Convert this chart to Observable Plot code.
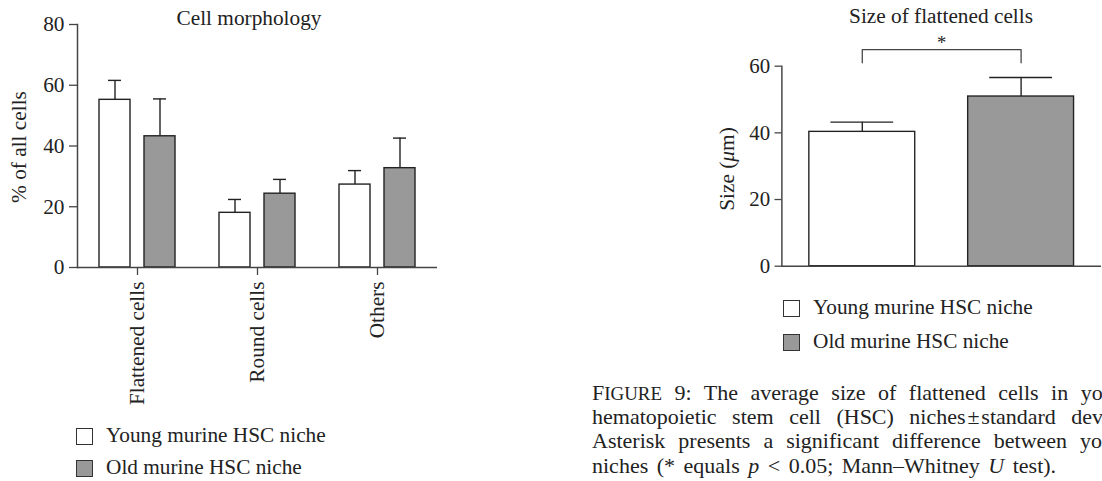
<!DOCTYPE html>
<html><head><meta charset="utf-8">
<script src="https://cdn.jsdelivr.net/npm/d3@7"></script>
<script src="https://cdn.jsdelivr.net/npm/@observablehq/plot@0.6"></script>
<style>
body{margin:0;background:#fff;width:1102px;height:481px;overflow:hidden;position:relative;font-family:"Liberation Serif",serif;color:#222;}
.abs{position:absolute;white-space:nowrap;}
.t{font-size:21.3px;line-height:21.3px;}
.c{transform:translate(-50%,0);}
.rot{transform:translate(-50%,-50%) rotate(-90deg);}
.sq{position:absolute;width:17px;height:17px;box-sizing:border-box;border:1.4px solid #333;}
.cap{position:absolute;left:592px;font-size:22px;line-height:22px;white-space:nowrap;}
.sc{font-size:0.86em;}
</style></head><body>
<div id="left" class="abs" style="left:0;top:0"></div>
<div id="right" class="abs" style="left:700px;top:0"></div>
<div class="abs t c" style="left:249px;top:8px">Cell morphology</div>
<div class="abs t c" style="left:941px;top:6px">Size of flattened cells</div>
<div class="abs t rot" style="left:20px;top:147px">% of all cells</div>
<div class="abs t rot" style="left:728px;top:169px">Size (<i>μ</i>m)</div>
<div id="legL"></div>
<div id="legR"></div>
<div class="cap" style="top:382px;word-spacing:7px">F<span class="sc">IGURE</span> 9: The average size of flattened cells in young and old</div>
<div class="cap" style="top:406px;word-spacing:10px">hematopoietic stem cell (HSC) niches&#8202;±&#8202;standard deviation.</div>
<div class="cap" style="top:430px;word-spacing:7.5px">Asterisk presents a significant difference between young and old</div>
<div class="cap" style="top:455px;word-spacing:3px">niches (* equals <i>p</i> &lt; 0.05; Mann–Whitney <i>U</i> test).</div>
<script>
// ---- data ----
const categories = ["Flattened cells", "Round cells", "Others"];
const groups = ["Young murine HSC niche", "Old murine HSC niche"];
const youngMean = [55.2, 18.0, 27.3];
const youngSD = [6.4, 4.4, 4.6];
const oldMean = [43.2, 24.3, 32.7];
const oldSD = [12.3, 4.7, 9.9];
const yTicksLeft = [0, 20, 40, 60, 80];
const sizeMean = [40.3, 50.9];
const sizeSD = [2.9, 5.7];
const yTicksRight = [0, 20, 40, 60];
const bracketLow = 61, bracketHigh = 65, asteriskY = 67;
const fills = ["#ffffff", "#999999"];

const ink = "#222";
const axisInk = "#444";
const font = {fontFamily: "Liberation Serif, serif", fontSize: "21.3px", color: ink, background: "transparent"};

const rows = categories.flatMap((c, i) => [
  {cat: c, grp: groups[0], mean: youngMean[i], sd: youngSD[i]},
  {cat: c, grp: groups[1], mean: oldMean[i], sd: oldSD[i]}
]);

const left = Plot.plot({
  width: 440, height: 410,
  marginLeft: 76, marginRight: 2, marginTop: 24, marginBottom: 143,
  style: font,
  fx: {domain: categories, padding: 0, label: null, axis: null},
  x: {domain: groups, paddingInner: 0.32, paddingOuter: 0.49, axis: null},
  y: {domain: [0, 80], axis: null},
  color: {domain: groups, range: fills},
  marks: [
    Plot.axisY({ticks: yTicksLeft, tickSize: 8, tickPadding: 5, label: null, stroke: axisInk, strokeWidth: 1.3}),
    Plot.axisFx({anchor: "bottom", tickSize: 8, tickPadding: 6, tickRotate: -90, label: null, stroke: axisInk, strokeWidth: 1.3}),
    Plot.frame({anchor: "left", facetAnchor: "left", stroke: axisInk, strokeWidth: 1.5}),
    Plot.ruleX(rows, {fx: "cat", x: "grp", y1: "mean", y2: d => d.mean + d.sd, stroke: ink, strokeWidth: 1.4}),
    Plot.tickY(rows, {fx: "cat", x: "grp", y: d => d.mean + d.sd, insetLeft: 9, insetRight: 9, stroke: ink, strokeWidth: 1.4}),
    Plot.barY(rows, {fx: "cat", x: "grp", y: "mean", fill: "grp", stroke: ink, strokeWidth: 1.4}),
    Plot.ruleY([0], {stroke: axisInk, strokeWidth: 1.5})
  ]
});
document.getElementById("left").append(left);

const sizeRows = groups.map((g, i) => ({grp: g, mean: sizeMean[i], sd: sizeSD[i]}));
const bracket = [
  {grp: groups[0], v: bracketLow}, {grp: groups[0], v: bracketHigh},
  {grp: groups[1], v: bracketHigh}, {grp: groups[1], v: bracketLow}
];

const right = Plot.plot({
  width: 410, height: 290,
  marginLeft: 83, marginRight: 1, marginTop: 67, marginBottom: 19,
  style: font,
  x: {domain: groups, paddingInner: 0.332, paddingOuter: 0.17, axis: null},
  y: {domain: [0, 60], axis: null},
  color: {domain: groups, range: fills},
  marks: [
    Plot.axisY({ticks: yTicksRight, tickSize: 7, tickPadding: 5, label: null, stroke: axisInk, strokeWidth: 1.3}),
    Plot.frame({anchor: "left", stroke: axisInk, strokeWidth: 1.5}),
    Plot.ruleX(sizeRows, {x: "grp", y1: "mean", y2: d => d.mean + d.sd, stroke: ink, strokeWidth: 1.4}),
    Plot.tickY(sizeRows, {x: "grp", y: d => d.mean + d.sd, insetLeft: 22, insetRight: 22, stroke: ink, strokeWidth: 1.4}),
    Plot.barY(sizeRows, {x: "grp", y: "mean", fill: "grp", stroke: ink, strokeWidth: 1.4}),
    Plot.ruleY([0], {stroke: axisInk, strokeWidth: 1.5}),
    Plot.line(bracket, {x: "grp", y: "v", stroke: axisInk, strokeWidth: 1.3, curve: "linear"}),
    Plot.text(["*"], {y: () => asteriskY, text: d => d, fontSize: 19, fill: ink})
  ]
});
document.getElementById("right").append(right);

function legend(el, x, tops, baselines) {
  groups.forEach((g, i) => {
    const sq = document.createElement("div");
    sq.className = "sq";
    sq.style.left = x + "px";
    sq.style.top = tops[i] + "px";
    sq.style.background = fills[i];
    el.append(sq);
    const t = document.createElement("div");
    t.className = "abs t";
    t.style.left = (x + 30) + "px";
    t.style.top = (baselines[i] - 17.8) + "px";
    t.textContent = g;
    el.append(t);
  });
}
legend(document.getElementById("legL"), 76, [428, 460], [443, 475]);
legend(document.getElementById("legR"), 783, [300, 334], [315, 349]);
</script>
</body></html>
